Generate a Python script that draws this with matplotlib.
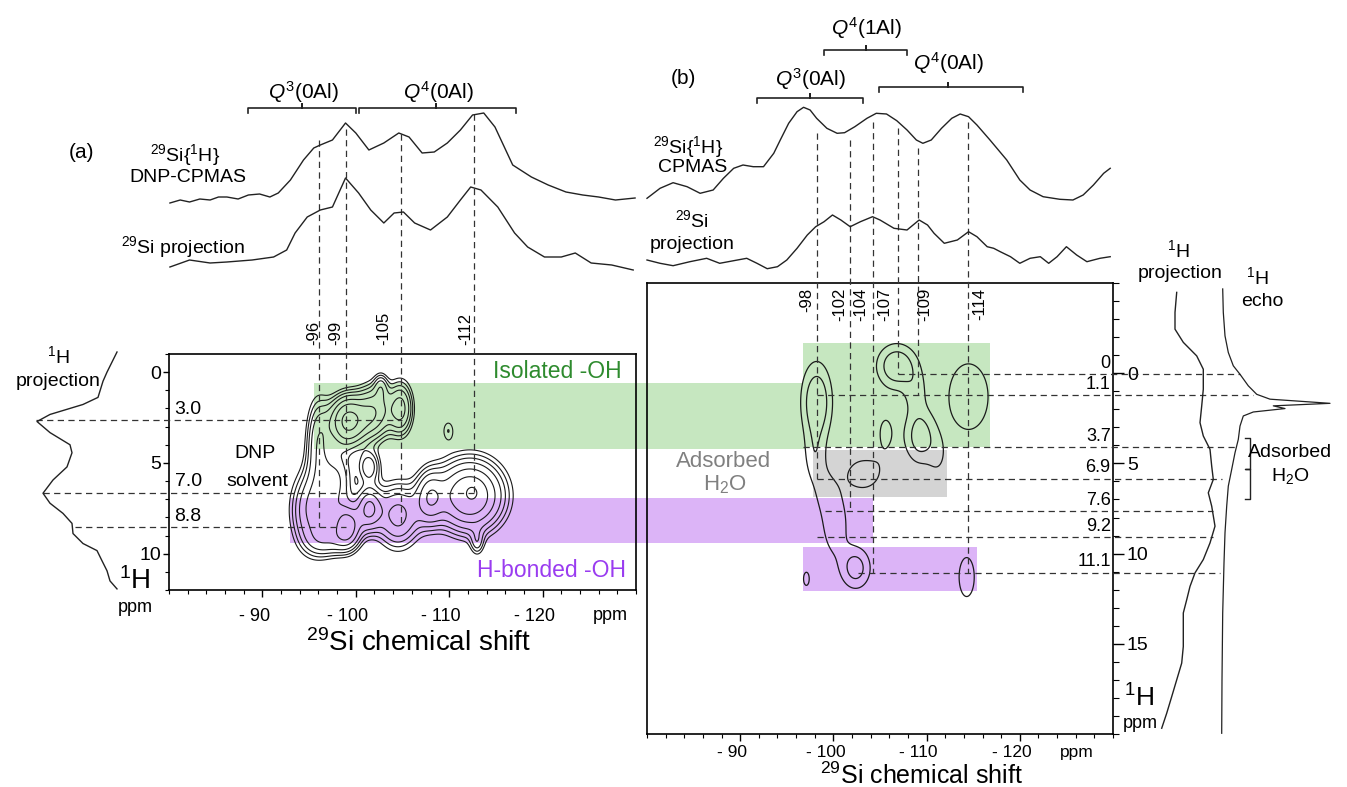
import numpy as np
import matplotlib
matplotlib.use("Agg")
import matplotlib.pyplot as plt
import matplotlib.transforms as mtransforms
from matplotlib.patches import Rectangle

plt.rcParams['font.family'] = ['Liberation Sans', 'DejaVu Sans']
plt.rcParams['mathtext.fontset'] = 'custom'
plt.rcParams['mathtext.rm'] = 'Liberation Sans'
plt.rcParams['mathtext.it'] = 'Liberation Sans:italic'

# ---------------- data: panel (a) ----------------
a_cp_ppm = [-80.1, -81.2, -82.2, -83.3, -84.4, -85.3, -86.2, -87.4, -88.5, -89.7, -90.8, -91.7, -93.0,
            -94.4, -95.5, -96.2, -97.5, -98.9, -100.0, -101.4, -103.0, -104.6, -105.7, -107.1, -108.4,
            -109.8, -111.2, -112.5, -113.7, -114.9, -116.8, -118.8, -120.6, -122.5, -124.3, -126.0,
            -127.8, -129.9]
a_cp_int = [0, 3, 1, 4, 3, 6, 6, 4, 8, 9, 6, 10, 23, 43, 55, 58, 63, 80, 70, 53, 60, 70, 66, 50, 51,
            60, 73, 88, 90, 76, 38, 26, 18, 11, 8, 6, 3, 5]
a_pr_ppm = [-80.1, -82.2, -84.4, -86.2, -88.9, -91.2, -92.6, -93.5, -94.8, -96.2, -97.5, -98.9, -100.3,
            -101.6, -103.0, -104.1, -105.1, -106.3, -108.0, -109.8, -111.2, -112.3, -113.4, -115.2,
            -117.0, -118.4, -120.2, -122.0, -123.5, -125.2, -127.4, -129.7]
a_pr_int = [0, 7, 4, 5, 7, 10, 17, 34, 50, 57, 60, 89, 74, 57, 44, 54, 55, 44, 37, 50, 67, 80, 77, 60,
            34, 20, 10, 10, 14, 4, 2, -3]
a_h_ppm = [-1.11, 0.0, 0.5, 1.39, 1.78, 2.33, 2.72, 3.33, 4.0, 4.44, 5.22, 5.94, 6.67, 7.22, 7.78,
           8.33, 8.89, 9.44, 9.83, 10.39, 10.94, 11.5, 11.94]
a_h_int = [3, 13, 17, 22, 37, 70, 83, 70, 50, 48, 53, 67, 77, 70, 57, 48, 47, 37, 23, 18, 13, 10, 3]

# 2D correlation peaks (a): 29Si shift, 1H shift, widths, amplitude
a_pk_si = [-99.2, -102.0, -104.8, -102.7, -96.0, -109.9, -98.0, -101.4, -95.5, -99.1, -101.4, -104.5,
           -107.9, -112.2, -112.5, -113.0, -97.0]
a_pk_h = [2.7, 2.2, 2.0, 0.8, 3.8, 3.2, 5.9, 5.2, 7.6, 8.55, 7.5, 7.9, 6.9, 6.8, 6.6, 9.4, 9.3]
a_pk_wsi = [1.3, 1.2, 0.9, 0.5, 0.9, 0.55, 1.2, 0.8, 1.6, 1.0, 0.9, 1.6, 1.0, 2.4, 0.5, 0.5, 1.5]
a_pk_wh = [0.9, 1.0, 1.0, 0.5, 1.6, 0.5, 1.2, 0.6, 1.5, 0.8, 0.8, 1.2, 1.0, 1.3, 0.3, 0.5, 0.6]
a_pk_amp = [1.0, 0.55, 0.5, 0.25, 0.4, 0.17, 0.4, 0.38, 0.5, 0.7, 0.6, 0.5, 0.45, 0.85, 0.15, 0.2, 0.25]
a_levels = [0.13, 0.18, 0.24, 0.32, 0.45, 0.62, 0.9]

a_si_lines = [-96.1, -98.9, -104.8, -112.7]
a_si_labels = ['-96', '-99', '-105', '-112']
a_si_lab_x = [-95.5, -97.8, -103.0, -111.8]
a_si_top = [-12.8, -13.4, -13.1, -14.2]
a_si_end = [8.55, 6.65, 8.55, 6.65]
a_h_lines = [2.65, 6.65, 8.55]
a_h_labels = ['3.0', '7.0', '8.8']
a_h_start = [-65.8, -66.5, -69.9]
a_h_end = [-105.0, -112.7, -98.9]

# ---------------- data: panel (b) ----------------
b_cp_ppm = [-80.0, -81.4, -82.8, -84.3, -85.7, -87.1, -88.2, -89.3, -90.3, -91.4, -92.5, -93.6, -94.3,
            -95.2, -96.1, -96.8, -97.5, -98.2, -99.3, -100.4, -101.2, -102.3, -103.6, -104.6, -105.7,
            -106.8, -107.9, -108.9, -109.6, -110.5, -111.6, -112.7, -113.6, -114.5, -115.4, -116.8,
            -118.6, -120.0, -121.1, -122.5, -124.3, -125.7, -126.8, -127.9, -129.0, -129.7]
b_cp_int = [1.7, 11.7, 17.3, 13.3, 6.7, 10, 21.7, 31.7, 35, 33.3, 33.3, 46.7, 60, 76.7, 88.3, 92.7, 90,
            81.7, 71.7, 66.7, 67.3, 73.3, 81.7, 86.7, 86, 79.3, 70, 60, 56.7, 60, 71.7, 81.7, 86, 83.3,
            75, 60, 40, 20, 10, 3.3, 0.7, 0, 5, 15, 26.7, 31.7]
b_pr_ppm = [-80.0, -81.4, -82.8, -84.6, -86.4, -87.8, -89.3, -90.7, -91.8, -92.9, -94.0, -95.0, -96.1,
            -97.2, -98.1, -99.0, -99.9, -100.8, -101.8, -102.9, -104.2, -105.0, -106.5, -107.9, -109.2,
            -110.1, -110.8, -111.9, -113.3, -114.5, -115.4, -116.5, -117.2, -117.9, -119.0, -120.0,
            -121.1, -122.2, -123.1, -124.0, -125.0, -126.1, -127.2, -128.6, -129.7]
b_pr_int = [10, 6.7, 4.3, 8.3, 11.7, 6.7, 9.3, 11.7, 6.7, 1.3, 3.3, 10, 21.7, 35, 43.3, 48.3, 55, 50,
            43.3, 48.3, 53.3, 50, 41.7, 40, 50, 45, 36.7, 26.7, 30, 38.3, 33.3, 23.3, 21.7, 18.3, 13.3,
            6.7, 11.7, 13.3, 6.7, 13.3, 23.3, 15, 8.3, 11.7, 13.3]
b_hp_ppm = [-4.48, -3.37, -2.44, -1.71, -0.96, -0.22, 0.89, 1.82, 2.74, 3.48, 4.22, 5.15, 5.89, 6.63,
            7.37, 8.48, 9.41, 10.33, 11.07, 11.82, 12.56, 13.29, 14.22, 15.15, 16.07, 17.0, 17.93,
            18.85, 19.68]
b_hp_int = [26.7, 25, 25, 33.3, 46.7, 53.3, 53.3, 51.7, 50, 53.3, 60, 61.7, 63.3, 58.3, 61.7, 65, 60,
            53.3, 45, 40, 36.7, 33.3, 33.3, 33.3, 31.7, 26.7, 21.7, 16.7, 11.7]
b_he_ppm = [-4.67, -3.37, -2.07, -1.15, -0.41, 0.06, 0.70, 1.17, 1.44, 1.67, 1.81, 1.96, 2.15, 2.37,
            2.93, 3.67, 4.41, 5.33, 6.26, 7.37, 8.85, 10.52, 13.3, 17.0, 19.96]
b_he_int = [0.7, 1.3, 3, 6.3, 11.3, 18, 26.3, 34.7, 48, 108, 51.3, 63, 31.3, 21.3, 18, 16.3, 13, 9.7,
            6.3, 4.7, 3, 2, 0.7, 0, -0.3]

b_pk_si = [-98.2, -98.0, -99.0, -106.8, -108.8, -109.3, -111.2, -114.5, -114.3, -97.1, -102.4, -100.2,
           -103.2, -105.6]
b_pk_h = [1.6, 4.6, 6.5, -0.4, 1.0, 3.5, 4.6, 1.3, 11.3, 11.4, 10.8, 8.4, 5.6, 3.3]
b_pk_wsi = [1.1, 0.8, 0.9, 1.4, 0.9, 1.1, 0.8, 1.9, 0.9, 0.5, 1.1, 1.1, 1.6, 1.0]
b_pk_wh = [1.45, 1.1, 1.0, 0.8, 0.9, 1.0, 0.9, 1.65, 1.2, 0.6, 0.8, 1.4, 0.8, 1.2]
b_pk_amp = [1.0, 0.45, 0.3, 1.0, 0.4, 0.85, 0.3, 0.55, 0.45, 0.36, 0.8, 0.5, 0.45, 0.35]
b_levels = [0.3, 0.62]

b_si_lines = [-98.2, -101.8, -104.2, -106.9, -109.1, -114.4]
b_si_labels = ['-98', '-102', '-104', '-107', '-109', '-114']
b_si_lab_x = [-97.1, -100.7, -102.9, -105.5, -109.8, -115.7]
b_si_top = [-13.3, -12.9, -13.9, -13.6, -12.5, -13.9]
b_si_end = [5.85, 7.65, 11.05, 0.05, 1.2, 11.05]
b_h_lines = [0.05, 1.2, 4.1, 5.85, 7.65, 9.1, 11.05]
b_h_labels = ['0', '1.1', '3.7', '6.9', '7.6', '9.2', '11.1']
b_h_start = [-106.9, -98.2, -96.7, -98.2, -99.1, -98.2, -102.6]
b_h_end = [-143.6, -145.0, -143.3, -141.7, -140.7, -140.7, -141.5]

x_ticks = [-90, -100, -110, -120]
x_ticklabels = ['- 90', '- 100', '- 110', '- 120']

GREEN = '#c6e7c0'
PURPLE = '#dcb4f7'
GREY = '#d4d4d4'

# ---------------- figure ----------------
W, H = 1347, 787
fig = plt.figure(figsize=(W / 100, H / 100), dpi=100)


def axpx(l, t, r, b):
    ax = fig.add_axes([l / W, 1 - b / H, (r - l) / W, (b - t) / H])
    ax.patch.set_visible(False)
    return ax


def ftext(x, y, s, **kw):
    kw.setdefault('ha', 'center')
    kw.setdefault('va', 'center')
    return fig.text(x / W, 1 - y / H, s, **kw)


def surface(si, h, pk_si, pk_h, wsi, wh, amp):
    X, Y = np.meshgrid(si, h)
    Z = np.zeros_like(X)
    for x0, y0, sx, sy, A in zip(pk_si, pk_h, wsi, wh, amp):
        Z += A * np.exp(-((X - x0) ** 2 / (2 * sx ** 2) + (Y - y0) ** 2 / (2 * sy ** 2)))
    return X, Y, Z


dash = (0, (5, 3.5))
LC = '#333333'


def style_2d(ax, ylim, xpad, xsize):
    ax.set_xlim(-80, -130)
    ax.set_ylim(*ylim)
    for s in ax.spines.values():
        s.set_linewidth(1.2)
    ax.set_xticks(x_ticks)
    ax.set_xticklabels(x_ticklabels)
    ax.set_xticks(np.arange(-80, -131, -2), minor=True)
    ax.tick_params(axis='x', which='major', direction='out', length=5, width=1, labelsize=xsize,
                   pad=xpad)
    ax.tick_params(axis='x', which='minor', direction='out', length=3, width=0.8)
    off = mtransforms.ScaledTranslation(-8 / 100, 0, fig.dpi_scale_trans)
    for lab in ax.get_xticklabels():
        lab.set_transform(lab.get_transform() + off)


# ---------- panel (a) ----------
ax_a = axpx(169, 354, 636, 590)
style_2d(ax_a, (12, -1), 8, 13)
ax_a.set_yticks([0, 5, 10])
ax_a.set_yticks(np.arange(-1, 13, 1), minor=True)
ax_a.tick_params(axis='y', which='major', direction='out', length=4, width=1, labelsize=14, pad=1.5)
ax_a.tick_params(axis='y', which='minor', direction='out', length=3, width=0.8)

# bands (a)
ax_a.add_patch(Rectangle((-95.5, 0.6), -148.2 + 95.5, 4.25 - 0.6, color=GREEN, lw=0,
                         clip_on=False, zorder=0))
ax_a.add_patch(Rectangle((-93.0, 6.95), -155.4 + 93.0, 9.4 - 6.95, color=PURPLE, lw=0,
                         clip_on=False, zorder=0))

Xa, Ya, Za = surface(np.linspace(-86, -125, 400), np.linspace(-3, 13, 400),
                     a_pk_si, a_pk_h, a_pk_wsi, a_pk_wh, a_pk_amp)
ax_a.contour(Xa, Ya, Za, levels=a_levels, colors='#1a1a1a', linewidths=0.8, zorder=3)

for x, y0, y1 in zip(a_si_lines, a_si_top, a_si_end):
    ax_a.plot([x, x], [y0, y1], color=LC, lw=0.9, ls=dash, clip_on=False, zorder=4)
for y, lab, x0, x1 in zip(a_h_lines, a_h_labels, a_h_start, a_h_end):
    ax_a.plot([x0, x1], [y, y], color=LC, lw=0.9, ls=dash, clip_on=False, zorder=4)
    ax_a.text(-80.6, y - 0.6, lab, ha='left', va='center', fontsize=14)
for x, lab in zip(a_si_lab_x, a_si_labels):
    ax_a.text(x, -1.5, lab, rotation=90, ha='center', va='bottom', fontsize=12)

ax_a.text(-121.6, -0.05, 'Isolated -OH', color='#2e8b2e', fontsize=16.5, ha='center', va='center')
ax_a.text(-120.9, 10.9, 'H-bonded -OH', color='#9a3cf0', fontsize=16.5, ha='center', va='center')
ax_a.text(-89.2, 4.5, 'DNP', fontsize=14, ha='center', va='center')
ax_a.text(-89.5, 6.0, 'solvent', fontsize=14, ha='center', va='center')

# left 1H projection (a)
ax_ap = axpx(0, 354, 169, 590)
ax_ap.set_xlim(120, -49)
ax_ap.set_ylim(12, -1)
ax_ap.axis('off')
ax_ap.plot(a_h_int, a_h_ppm, color='#222222', lw=1.0, clip_on=False)

# top traces (a)
ax_at = axpx(169, 0, 636, 280)
ax_at.set_xlim(-80, -130)
ax_at.set_ylim(0, 280)
ax_at.axis('off')
ax_at.plot(a_cp_ppm, np.array(a_cp_int) + 77, color='#222222', lw=1.0, clip_on=False)
ax_at.plot(a_pr_ppm, np.array(a_pr_int) + 13, color='#222222', lw=1.0, clip_on=False)


def brace(ax, x1, x2, xc, v, label, lv, lx):
    ax.plot([x1, x1, xc, xc, xc, x2, x2], [v - 5, v, v, v + 4, v, v, v - 5], color='#222222',
            lw=1.2, clip_on=False)
    ax.text(lx, lv, label, ha='center', va='center', fontsize=15)


brace(ax_at, -88.5, -100.0, -94.2, 172, r'$Q^{3}$(0Al)', 188, -94.4)
brace(ax_at, -100.3, -117.1, -108.6, 172, r'$Q^{4}$(0Al)', 188, -108.8)

# ---------- panel (b) ----------
ax_b = axpx(647, 283, 1113, 734)
style_2d(ax_b, (20, -5), 3, 12.5)
ax_b.yaxis.tick_right()
ax_b.set_yticks([0, 5, 10, 15])
ax_b.set_yticks(np.arange(-5, 21, 1), minor=True)
ax_b.tick_params(axis='y', which='major', direction='out', length=8, width=1, labelsize=14, pad=2)
ax_b.tick_params(axis='y', which='minor', direction='out', length=4, width=0.8)

ax_b.add_patch(Rectangle((-96.7, -1.67), -116.8 + 96.7, 4.1 + 1.67, color=GREEN, lw=0, zorder=0))
ax_b.add_patch(Rectangle((-97.8, 4.26), -112.2 + 97.8, 6.86 - 4.26, color=GREY, lw=0, zorder=0))
ax_b.add_patch(Rectangle((-96.7, 9.63), -115.4 + 96.7, 12.1 - 9.63, color=PURPLE, lw=0, zorder=0))

Xb, Yb, Zb = surface(np.linspace(-86, -125, 400), np.linspace(-5, 15, 400),
                     b_pk_si, b_pk_h, b_pk_wsi, b_pk_wh, b_pk_amp)
ax_b.contour(Xb, Yb, Zb, levels=b_levels, colors='#1a1a1a', linewidths=0.9, zorder=3)

for x, y0, y1 in zip(b_si_lines, b_si_top, b_si_end):
    ax_b.plot([x, x], [y0, y1], color=LC, lw=0.9, ls=dash, clip_on=False, zorder=4)
for x, lab in zip(b_si_lab_x, b_si_labels):
    ax_b.text(x, -4.72, lab, rotation=90, ha='center', va='top', fontsize=12)
for y, lab, x0, x1 in zip(b_h_lines, b_h_labels, b_h_start, b_h_end):
    ax_b.plot([x0, x1], [y, y], color=LC, lw=0.9, ls=dash, clip_on=False, zorder=4)
    ax_b.text(0.995, y - 0.6, lab, ha='right', va='center', fontsize=13,
              transform=mtransforms.blended_transform_factory(ax_b.transAxes, ax_b.transData))

ax_b.text(-88.2, 4.9, 'Adsorbed', color='#808080', fontsize=16, ha='center', va='center')
ax_b.text(-88.4, 6.2, r'H$_{2}$O', color='#808080', fontsize=16, ha='center', va='center')

# right projections (b)
ax_bp = axpx(1113, 283, 1347, 734)
ax_bp.set_xlim(0, 234)
ax_bp.set_ylim(20, -5)
ax_bp.axis('off')
ax_bp.plot(np.array(b_hp_int) + 37, b_hp_ppm, color='#222222', lw=1.0, clip_on=False)
ax_bp.plot(np.array(b_he_int) + 109, b_he_ppm, color='#222222', lw=0.9, clip_on=False)
ax_bp.plot([132, 137, 137, 132, 137, 137, 132], [3.6, 3.6, 5.3, 5.3, 5.3, 6.95, 6.95],
           color='#222222', lw=1.0, clip_on=False)
ax_bp.text(177, 4.4, 'Adsorbed', fontsize=14, ha='center', va='center')
ax_bp.text(177, 5.7, r'H$_{2}$O', fontsize=14, ha='center', va='center')

# top traces (b)
ax_bt = axpx(647, 0, 1113, 280)
ax_bt.set_xlim(-80, -130)
ax_bt.set_ylim(0, 280)
ax_bt.axis('off')
ax_bt.plot(b_cp_ppm, np.array(b_cp_int) + 80, color='#222222', lw=1.0, clip_on=False)
ax_bt.plot(b_pr_ppm, np.array(b_pr_int) + 10, color='#222222', lw=1.0, clip_on=False)
brace(ax_bt, -91.8, -103.2, -97.5, 182, r'$Q^{3}$(0Al)', 201, -97.5)
brace(ax_bt, -99.0, -107.9, -103.5, 230, r'$Q^{4}$(1Al)', 252, -103.5)
brace(ax_bt, -104.9, -120.3, -112.3, 193, r'$Q^{4}$(0Al)', 217, -112.3)

# ---------- free labels ----------
ftext(82, 153, '(a)', fontsize=15)
ftext(185, 155, r'$^{29}$Si{$^{1}$H}', fontsize=14)
ftext(188, 178, 'DNP-CPMAS', fontsize=14)
ftext(183, 247, r'$^{29}$Si projection', fontsize=14)
ftext(58, 356, r'$^{1}$H', fontsize=14)
ftext(58, 382, 'projection', fontsize=14)
ftext(135, 581, r'$^{1}$H', fontsize=20)
ftext(135, 607, 'ppm', fontsize=13)
ftext(610, 615, 'ppm', fontsize=13)
ftext(418, 643, r'$^{29}$Si chemical shift', fontsize=20)

ftext(683, 78, '(b)', fontsize=15)
ftext(688, 147, r'$^{29}$Si{$^{1}$H}', fontsize=14)
ftext(693, 168, 'CPMAS', fontsize=14)
ftext(692, 220, r'$^{29}$Si', fontsize=14)
ftext(692, 245, 'projection', fontsize=14)
ftext(1178, 250, r'$^{1}$H', fontsize=14)
ftext(1180, 273, 'projection', fontsize=14)
ftext(1257, 277, r'$^{1}$H', fontsize=14)
ftext(1262, 302, 'echo', fontsize=14)
ftext(1139, 698, r'$^{1}$H', fontsize=19)
ftext(1140, 724, 'ppm', fontsize=13)
ftext(1077, 752, 'ppm', fontsize=12.5)
ftext(921, 776, r'$^{29}$Si chemical shift', fontsize=18)

fig.savefig('out.png', dpi=100)
